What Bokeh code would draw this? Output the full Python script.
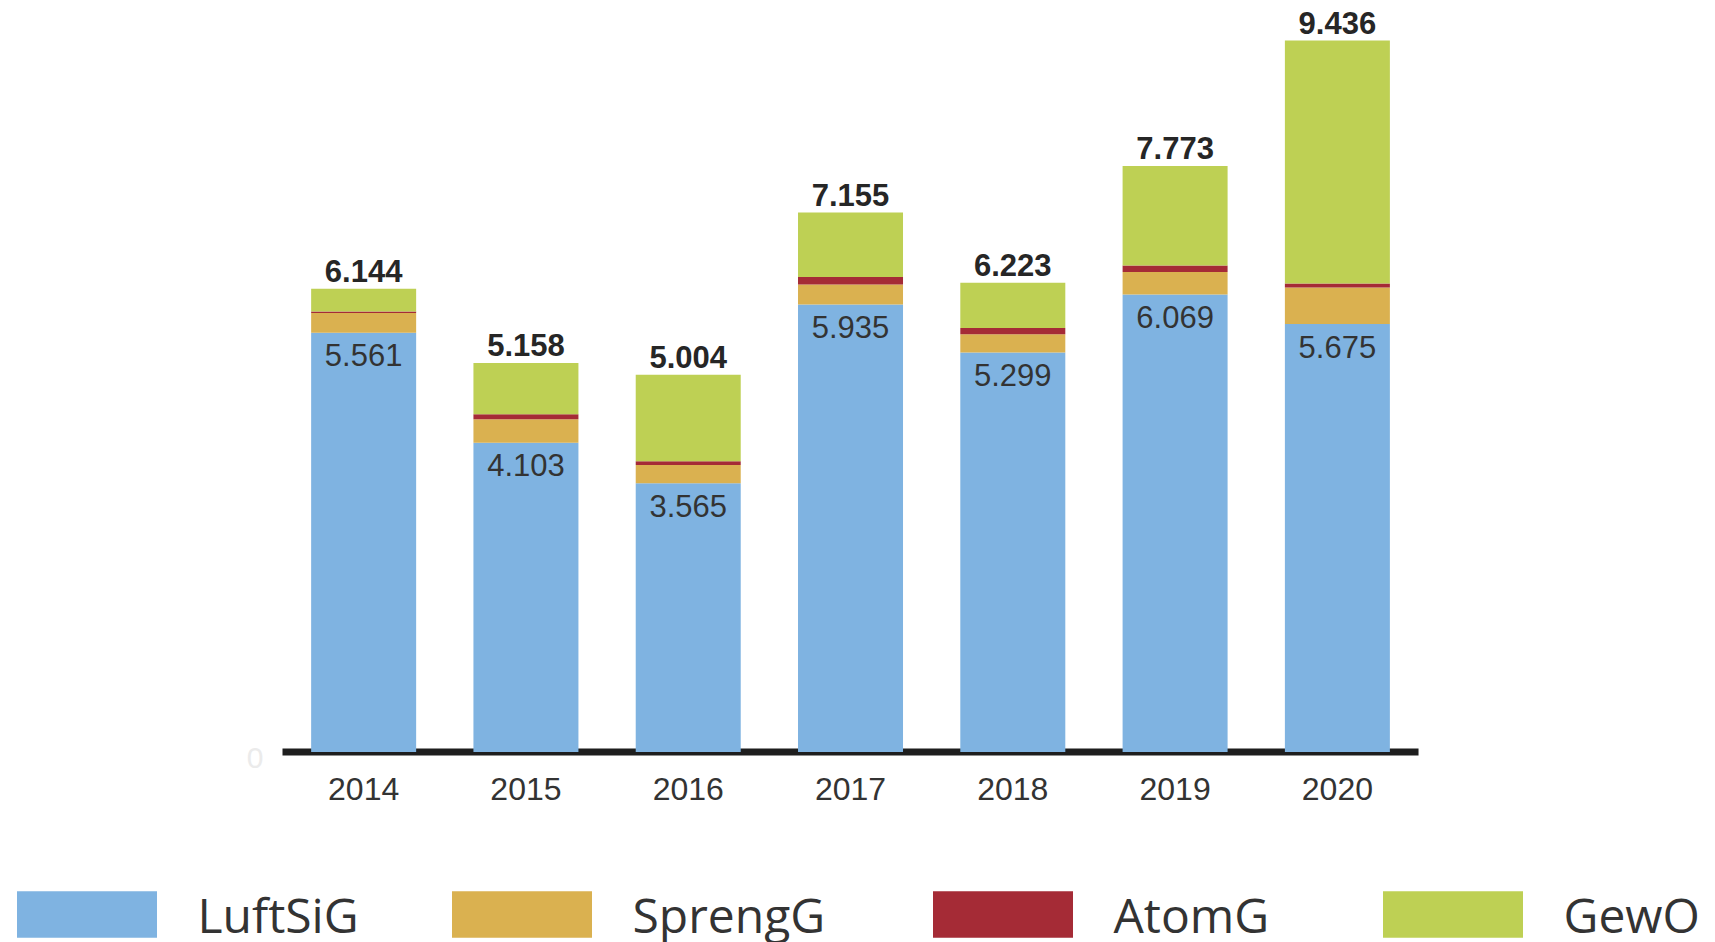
from bokeh.plotting import figure
from bokeh.models import (ColumnDataSource, Range1d, LabelSet, Label, Legend, LegendItem)
from bokeh.core.properties import value
from bokeh.embed import file_html
from bokeh.resources import INLINE

# ---- data ----
years = ["2014", "2015", "2016", "2017", "2018", "2019", "2020"]
luftsig = [5561, 4103, 3565, 5935, 5299, 6069, 5675]
sprengg = [260, 310, 243, 265, 243, 296, 486]
atomg = [22, 66, 49, 100, 80, 88, 53]
gewo = [301, 679, 1147, 855, 601, 1320, 3222]
totals = [6144, 5158, 5004, 7155, 6223, 7773, 9436]
series = ["LuftSiG", "SprengG", "AtomG", "GewO"]
colors = ["#7FB3E1", "#DAB150", "#A52B36", "#BED054"]


def de(v):
    return f"{v:,}".replace(",", ".")


idx = list(range(len(years)))
source = ColumnDataSource(dict(
    x=idx, year=years, LuftSiG=luftsig, SprengG=sprengg, AtomG=atomg, GewO=gewo,
    total=totals, total_txt=[de(v) for v in totals], luft_txt=[de(v) for v in luftsig],
))

W, H = 1715, 942
CAT_PX = 162.29          # pixels per category
AX_LEFT = 282            # left end of the baseline on the page
BASE_Y = 751.5           # page y of the zero line
PX_PER_UNIT = 0.0754     # pixels per count

x_start = -0.5 - AX_LEFT / CAT_PX
y_end = BASE_Y / PX_PER_UNIT
y_start = -(H - BASE_Y) / PX_PER_UNIT

p = figure(width=W, height=H,
           x_range=Range1d(x_start, x_start + W / CAT_PX),
           y_range=Range1d(y_start, y_end),
           x_axis_location=None, y_axis_location=None,
           output_backend="svg", toolbar_location=None, min_border=0)
p.outline_line_color = None
p.grid.visible = False

# zero line
p.segment(x0=[idx[0] - 0.5], x1=[idx[-1] + 0.5], y0=[0], y1=[0],
          line_color="#1e1e1e", line_width=7, level="underlay")

renderers = p.vbar_stack(series, x="x", width=0.647, fill_color=colors,
                         line_color=None, source=source)

# category labels
p.add_layout(LabelSet(x="x", y=0, text="year", source=source,
                      text_align="center", text_baseline="alphabetic", y_offset=-48,
                      text_font=value("Liberation Sans"), text_font_size="32px",
                      text_color="#333333"))
# faint zero tick label
p.add_layout(Label(x=idx[0] - 0.5, y=0, text="0", x_offset=-19, y_offset=-6,
                   text_align="right", text_baseline="alphabetic",
                   text_font="Liberation Sans", text_font_size="30px",
                   text_color="#EBEBEB"))

# value labels
p.add_layout(LabelSet(x="x", y="total", text="total_txt", source=source,
                      text_align="center", text_baseline="alphabetic", y_offset=6.6,
                      text_font=value("Liberation Sans"), text_font_size="31px",
                      text_font_style="bold", text_color="#262626"))
p.add_layout(LabelSet(x="x", y="LuftSiG", text="luft_txt", source=source,
                      text_align="center", text_baseline="alphabetic", y_offset=-33.7,
                      text_font=value("Liberation Sans"), text_font_size="31px",
                      text_color="#333333"))

# legend entries across the bottom (swatch area is inset 10% by Bokeh)
legend_x = [-1.5, 433.5, 914.5, 1364.5]
for i, name in enumerate(series):
    leg = Legend(items=[LegendItem(label=name, renderers=[renderers[i]])],
                 location=(legend_x[i], -12),
                 orientation="horizontal",
                 glyph_width=175, glyph_height=58, label_standoff=24,
                 label_height=80, padding=0, margin=0, spacing=0,
                 border_line_color=None, background_fill_alpha=0,
                 label_text_font="Open Sans", label_text_font_size="48px",
                 label_text_color="#333333")
    p.add_layout(leg, "center")

open("out.html", "w").write(file_html(p, INLINE))
